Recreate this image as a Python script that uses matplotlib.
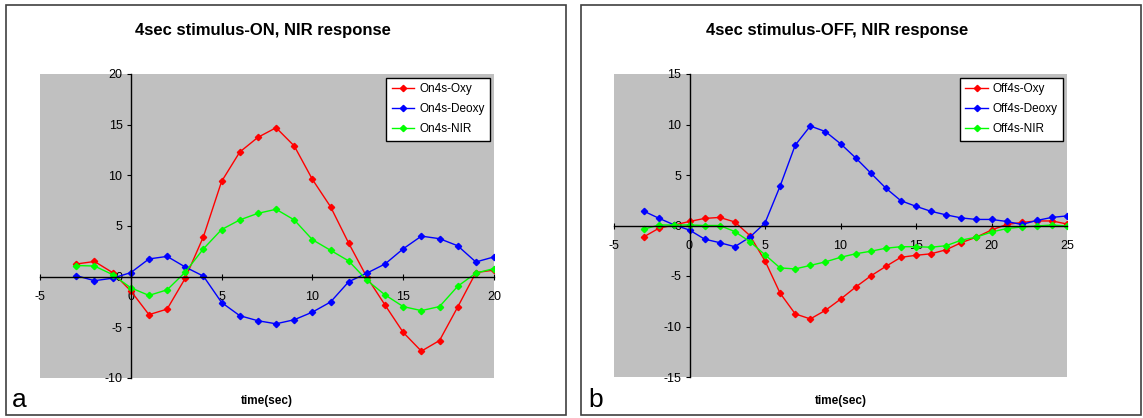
import matplotlib.pyplot as plt
from matplotlib.patches import Rectangle
import numpy as np

plt.rcParams['font.family'] = ['Liberation Sans', 'DejaVu Sans']
plt.rcParams['axes.unicode_minus'] = False

# panel a: stimulus ON
t_on = np.arange(-3, 21)
on_oxy = [1.25, 1.5, 0.4, -1.4, -3.75, -3.2, -0.15, 3.95, 9.4, 12.3, 13.75, 14.7,
          12.9, 9.6, 6.9, 3.3, -0.05, -2.8, -5.5, -7.35, -6.3, -3.0, 0.4, 0.65]
on_deoxy = [0.1, -0.4, -0.15, 0.4, 1.75, 2.0, 0.95, 0.05, -2.55, -3.85, -4.35, -4.65,
            -4.25, -3.5, -2.5, -0.5, 0.35, 1.25, 2.75, 4.0, 3.75, 3.05, 1.45, 1.95]
on_nir = [1.1, 1.05, 0.2, -1.1, -1.85, -1.3, 0.45, 2.75, 4.65, 5.6, 6.25, 6.65,
          5.6, 3.65, 2.6, 1.55, -0.35, -1.8, -2.95, -3.35, -2.95, -0.95, 0.35, 0.8]

# panel b: stimulus OFF
t_off = np.arange(-3, 26)
off_oxy = [-1.1, -0.25, 0.05, 0.4, 0.7, 0.8, 0.35, -1.0, -3.5, -6.7, -8.75, -9.25,
           -8.4, -7.3, -6.1, -5.0, -4.05, -3.15, -2.95, -2.8, -2.4, -1.7, -1.15, -0.45,
           0.1, 0.3, 0.45, 0.45, 0.15]
off_deoxy = [1.4, 0.7, 0.05, -0.45, -1.35, -1.7, -2.1, -1.15, 0.25, 3.9, 7.95, 9.85,
             9.3, 8.1, 6.7, 5.2, 3.7, 2.45, 1.9, 1.4, 1.05, 0.75, 0.6, 0.6,
             0.4, 0.1, 0.5, 0.8, 0.95]
off_nir = [-0.35, 0.05, 0.05, 0.05, 0.0, 0.0, -0.6, -1.6, -2.9, -4.2, -4.3, -3.95,
           -3.6, -3.15, -2.8, -2.55, -2.25, -2.1, -2.1, -2.15, -2.0, -1.45, -1.15, -0.65,
           -0.3, -0.15, -0.05, 0.05, -0.05]

W, H = 1143, 418
fig = plt.figure(figsize=(W / 100, H / 100), dpi=100)

def px(l, t, r, b):
    return [l / W, 1 - b / H, (r - l) / W, (b - t) / H]

# outer panel frames
for (l, t, r, b) in [(6, 5, 566, 415), (581, 5, 1141, 415)]:
    fig.patches.append(Rectangle((l / W, 1 - b / H), (r - l) / W, (b - t) / H,
                                 transform=fig.transFigure, fill=False,
                                 edgecolor='#404040', lw=1.2))

panels = [
    dict(box=(40, 74, 494, 378), t=t_on, ys=[on_oxy, on_deoxy, on_nir],
         labels=['On4s-Oxy', 'On4s-Deoxy', 'On4s-NIR'], xlim=(-5, 20), ylim=(-10, 20),
         title='4sec stimulus-ON, NIR response', tx=263, letter='a', lx=12),
    dict(box=(614, 74, 1067, 377), t=t_off, ys=[off_oxy, off_deoxy, off_nir],
         labels=['Off4s-Oxy', 'Off4s-Deoxy', 'Off4s-NIR'], xlim=(-5, 25), ylim=(-15, 15),
         title='4sec stimulus-OFF, NIR response', tx=837, letter='b', lx=588),
]
colors = ['#ff0000', '#0000ff', '#00ff00']

for p in panels:
    ax = fig.add_axes(px(*p['box']))
    ax.set_facecolor('#c0c0c0')
    for y, c, lab in zip(p['ys'], colors, p['labels']):
        ax.plot(p['t'], y, color=c, lw=1.0, marker='D', ms=3.2, label=lab)
    ax.set_xlim(*p['xlim'])
    ax.set_ylim(*p['ylim'])
    ax.set_xticks(np.arange(p['xlim'][0], p['xlim'][1] + 1, 5))
    ax.set_yticks(np.arange(p['ylim'][0], p['ylim'][1] + 1, 5))
    ax.spines['left'].set_position(('data', 0))
    ax.spines['bottom'].set_position(('data', 0))
    ax.spines['top'].set_visible(False)
    ax.spines['right'].set_visible(False)
    ax.spines['left'].set_linewidth(1.0)
    ax.spines['bottom'].set_linewidth(1.0)
    ax.tick_params(axis='both', labelsize=9, length=3, width=0.8, pad=3)
    ax.tick_params(axis='x', direction='inout', length=5, pad=8)
    leg = ax.legend(loc='upper right', fontsize=8.5, frameon=True, fancybox=False,
                    edgecolor='black', facecolor='white', framealpha=1,
                    borderpad=0.5, handlelength=1.9, handletextpad=0.4,
                    labelspacing=0.65, borderaxespad=0.3)
    leg.get_frame().set_linewidth(1.0)
    fig.text(p['tx'] / W, 1 - 30 / H, p['title'], ha='center', va='center',
             fontsize=12, fontweight='bold')
    fig.text((p['box'][0] + p['box'][2]) / 2 / W, 1 - 401 / H, 'time(sec)',
             ha='center', va='center', fontsize=8.5, fontweight='bold')
    fig.text(p['lx'] / W, 1 - 400 / H, p['letter'], ha='left', va='center',
             fontsize=19)

fig.savefig('out.png', dpi=100)
